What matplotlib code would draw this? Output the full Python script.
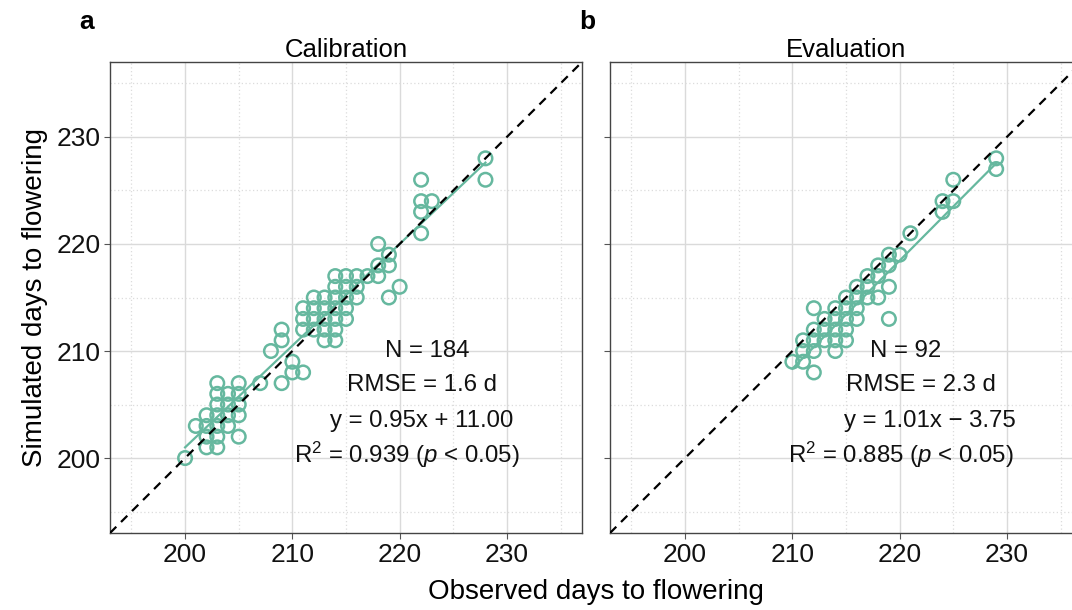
import matplotlib
matplotlib.use("Agg")
import matplotlib.pyplot as plt
import numpy as np

plt.rcParams['font.family'] = ['Liberation Sans', 'DejaVu Sans']
plt.rcParams['mathtext.fontset'] = 'custom'
plt.rcParams['mathtext.rm'] = 'Liberation Sans'
plt.rcParams['mathtext.it'] = 'Liberation Sans:italic'

# calibration set (observed, simulated)
cal_obs = [200, 202, 203, 202, 203, 205, 201, 202, 203, 204, 202, 203, 204, 205,
           203, 204, 205, 203, 204, 205, 203, 205, 207, 209, 210, 211, 210, 208,
           209, 209, 213, 214, 211, 212, 213, 214, 211, 212, 213, 214, 215,
           211, 212, 213, 214, 215, 212, 213, 214, 215, 216, 214, 215, 216,
           214, 215, 216, 217, 218, 218, 219, 219, 219, 220, 218, 222, 222, 223,
           222, 222, 228, 228]
cal_sim = [200, 201, 201, 202, 202, 202, 203, 203, 203, 203, 204, 204, 204, 204,
           205, 205, 205, 206, 206, 206, 207, 207, 207, 207, 208, 208, 209, 210,
           211, 212, 211, 211, 212, 212, 212, 212, 213, 213, 213, 213, 213,
           214, 214, 214, 214, 214, 215, 215, 215, 215, 215, 216, 216, 216,
           217, 217, 217, 217, 217, 218, 218, 219, 215, 216, 220, 226, 224, 224,
           223, 221, 228, 226]

# evaluation set (observed, simulated)
eva_obs = [212, 210, 211, 211, 212, 214, 211, 212, 213, 214, 215, 212, 213, 214, 215,
           213, 214, 215, 216, 219, 212, 214, 215, 216, 215, 216, 217, 218,
           216, 217, 219, 217, 218, 218, 219, 219, 220, 221, 224, 224, 225, 225,
           229, 229]
eva_sim = [208, 209, 209, 210, 210, 210, 211, 211, 211, 211, 211, 212, 212, 212, 212,
           213, 213, 213, 213, 213, 214, 214, 214, 214, 215, 215, 215, 215,
           216, 216, 216, 217, 217, 218, 218, 219, 219, 221, 223, 224, 224, 226,
           227, 228]

cal_fit = (0.95, 11.00, 200, 228)
eva_fit = (1.01, -3.75, 210, 229)

cal_text = ["N = 184", "RMSE = 1.6 d", "y = 0.95x + 11.00",
            r"R$^2$ = 0.939 ($p$ < 0.05)"]
eva_text = ["N = 92", "RMSE = 2.3 d", "y = 1.01x \u2212 3.75",
            r"R$^2$ = 0.885 ($p$ < 0.05)"]

green = '#66b89f'
lims = (193, 237)

fig = plt.figure(figsize=(10.72, 6.10), dpi=100)
ax1 = fig.add_axes([110 / 1072, 77 / 610, 472 / 1072, 471 / 610])
ax2 = fig.add_axes([610 / 1072, 77 / 610, 472 / 1072, 471 / 610])


def panel(ax, obs, sim, fit, lines, xs, title, letter):
    ax.set_xlim(lims)
    ax.set_ylim(lims)
    ax.set_xticks([200, 210, 220, 230])
    ax.set_yticks([200, 210, 220, 230])
    ax.set_xticks([195, 205, 215, 225, 235], minor=True)
    ax.set_yticks([195, 205, 215, 225, 235], minor=True)
    ax.grid(which='major', color='#dadada', lw=1.0)
    ax.grid(which='minor', color='#dcdcdc', lw=0.9, ls=(0, (1, 2)))
    ax.set_axisbelow(True)
    ax.tick_params(which='minor', length=0)
    ax.tick_params(which='major', length=4, color='#555555', labelsize=19,
                   labelcolor='#111111', pad=3)
    for s in ax.spines.values():
        s.set_color('#444444')
        s.set_linewidth(1.0)
    ax.plot(lims, lims, ls=(0, (4, 3)), color='black', lw=1.6, zorder=4)
    ax.scatter(obs, sim, s=95, facecolors='none', edgecolors=green,
               linewidths=1.8, zorder=3)
    k, b, x0, x1 = fit
    ax.plot([x0, x1], [k * x0 + b, k * x1 + b], color=green, lw=1.6, zorder=3)
    ys = [210.0, 206.8, 203.5, 200.3]
    for t, x, y in zip(lines, xs, ys):
        ax.text(x, y, t, ha='center', va='center', fontsize=17.3, color='#111111',
                zorder=5)
    ax.set_title(title, fontsize=18.5, pad=3)
    ax.text(-0.065, 1.085, letter, transform=ax.transAxes, fontsize=19,
            fontweight='bold', va='center')


panel(ax1, cal_obs, cal_sim, cal_fit, cal_text, [222.6, 222.1, 222.1, 220.7],
      "Calibration", "a")
panel(ax2, eva_obs, eva_sim, eva_fit, eva_text, [220.6, 222.0, 222.8, 220.1],
      "Evaluation", "b")
ax2.tick_params(axis='y', labelleft=False)
ax1.set_ylabel("Simulated days to flowering", fontsize=20, labelpad=6)
fig.text(596 / 1072, 1 - 592 / 610, "Observed days to flowering", fontsize=20,
         ha='center', va='center')

fig.savefig("out.png", dpi=100)
